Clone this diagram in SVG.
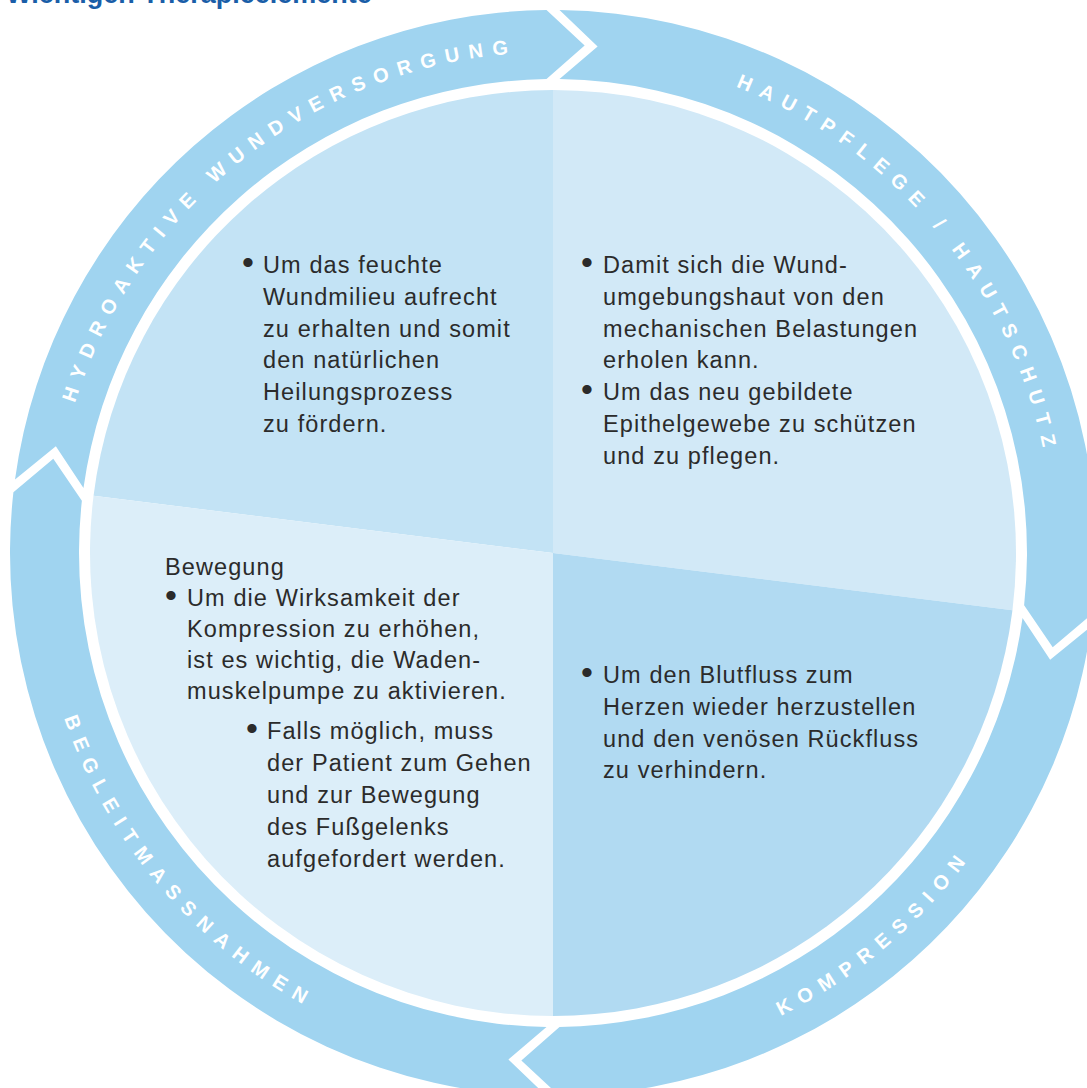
<svg xmlns="http://www.w3.org/2000/svg" width="1087" height="1088" viewBox="0 0 1087 1088">
<style>
.ring{fill:#a0d4f0}
.lbl{font-family:"Liberation Sans",Arial,sans-serif;font-weight:bold;font-size:20px;letter-spacing:9.3px;fill:#ffffff}
.body{font-family:"Liberation Sans",Arial,sans-serif;font-size:23.5px;letter-spacing:1.1px;fill:#2b2b2b}
.bul{font-size:34px;letter-spacing:0}
.title{font-family:"Liberation Sans",Arial,sans-serif;font-weight:bold;font-size:27px;fill:#1a5ea8}
</style>
<defs>
<path id="topArc" d="M 52,553 A 501 501 0 0 1 1054,553 A 501 501 0 0 1 52,553"/>
<path id="botArc" d="M 37,553 A 516 516 0 0 0 1069,553 A 516 516 0 0 0 37,553"/>
</defs>
<rect width="1087" height="1088" fill="#ffffff"/>
<text class="title" x="6" y="3">Wichtigen Therapieelemente</text>

<g id="quadrants">
<g id="q-hydroaktive">
<path d="M 553,553 L 93.55,495.77 A 463 463 0 0 1 553,90 Z" fill="#c3e3f5"/>
<text class="body"><tspan class="bul" x="242" y="274">•</tspan><tspan x="263" y="273">Um das feuchte</tspan><tspan x="263" y="305">Wundmilieu aufrecht</tspan><tspan x="263" y="337">zu erhalten und somit</tspan><tspan x="263" y="368">den natürlichen</tspan><tspan x="263" y="400">Heilungsprozess</tspan><tspan x="263" y="432">zu fördern.</tspan></text>
</g>
<g id="q-hautpflege">
<path d="M 553,553 L 553,90 A 463 463 0 0 1 1012.45,610.23 Z" fill="#d2e9f7"/>
<text class="body"><tspan class="bul" x="581" y="274">•</tspan><tspan x="603" y="273">Damit sich die Wund-</tspan><tspan x="603" y="305">umgebungshaut von den</tspan><tspan x="603" y="337">mechanischen Belastungen</tspan><tspan x="603" y="368">erholen kann.</tspan><tspan class="bul" x="581" y="401">•</tspan><tspan x="603" y="400">Um das neu gebildete</tspan><tspan x="603" y="432">Epithelgewebe zu schützen</tspan><tspan x="603" y="464">und zu pflegen.</tspan></text>
</g>
<g id="q-kompression">
<path d="M 553,553 L 1012.45,610.23 A 463 463 0 0 1 553,1016 Z" fill="#b1daf2"/>
<text class="body"><tspan class="bul" x="581" y="684">•</tspan><tspan x="603" y="683">Um den Blutfluss zum</tspan><tspan x="603" y="715">Herzen wieder herzustellen</tspan><tspan x="603" y="747">und den venösen Rückfluss</tspan><tspan x="603" y="778">zu verhindern.</tspan></text>
</g>
<g id="q-begleit">
<path d="M 553,553 L 553,1016 A 463 463 0 0 1 93.55,495.77 Z" fill="#dceef9"/>
<text class="body"><tspan x="165" y="575">Bewegung</tspan><tspan class="bul" x="165" y="607">•</tspan><tspan x="187" y="606">Um die Wirksamkeit der</tspan><tspan x="187" y="637">Kompression zu erhöhen,</tspan><tspan x="187" y="668">ist es wichtig, die Waden-</tspan><tspan x="187" y="699">muskelpumpe zu aktivieren.</tspan><tspan class="bul" x="246" y="740">•</tspan><tspan x="267" y="739">Falls möglich, muss</tspan><tspan x="267" y="771">der Patient zum Gehen</tspan><tspan x="267" y="803">und zur Bewegung</tspan><tspan x="267" y="835">des Fußgelenks</tspan><tspan x="267" y="867">aufgefordert werden.</tspan></text>
</g>
</g>

<g id="ring">
<g id="arrow-hydroaktive">
<path class="ring" d="M 15.01,479.43 A 543 543 0 0 1 546.50,10.04 L 584.64,45.49 L 546.50,79.04 A 474 474 0 0 0 83.48,487.97 L 55.85,446.13 Z"/>
<text class="lbl"><textPath href="#topArc" startOffset="152">HYDROAKTIVE WUNDVERSORGUNG</textPath></text>
</g>
<g id="arrow-hautpflege">
<path class="ring" d="M 559.50,10.04 A 543 543 0 0 1 1092.60,613.66 L 1052.71,647.13 L 1024.12,605.13 A 474 474 0 0 0 559.50,79.04 L 597.60,46.46 Z"/>
<text class="lbl"><textPath href="#topArc" startOffset="974">HAUTPFLEGE / HAUTSCHUTZ</textPath></text>
</g>
<g id="arrow-kompression">
<path class="ring" d="M 1090.99,626.57 A 543 543 0 0 1 559.50,1095.96 L 521.36,1060.51 L 559.50,1026.96 A 474 474 0 0 0 1022.52,618.03 L 1050.15,659.87 Z"/>
<text class="lbl"><textPath href="#botArc" startOffset="1046">KOMPRESSION</textPath></text>
</g>
<g id="arrow-begleit">
<path class="ring" d="M 546.50,1095.96 A 543 543 0 0 1 13.40,492.34 L 53.29,458.87 L 81.88,500.87 A 474 474 0 0 0 546.50,1026.96 L 508.40,1059.54 Z"/>
<text class="lbl"><textPath href="#botArc" startOffset="168">BEGLEITMASSNAHMEN</textPath></text>
</g>
</g>
<g id="connectors"/>
</svg>
